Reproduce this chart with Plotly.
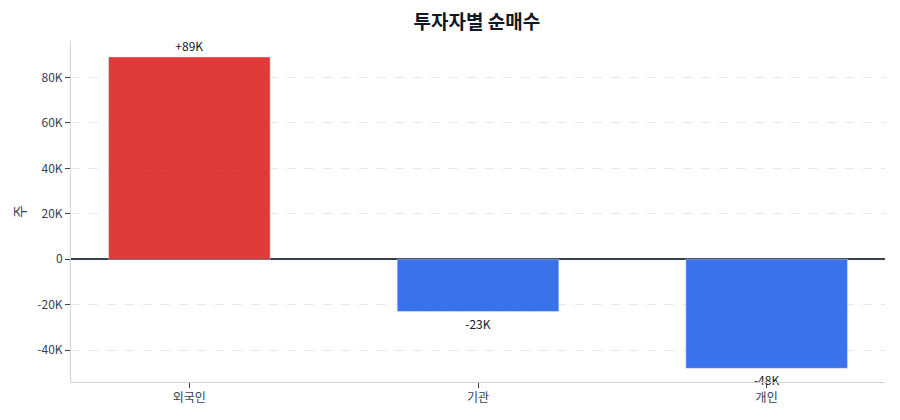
import plotly.graph_objects as go

# ── data ──────────────────────────────────────────────────────────────────────
investors = ["외국인", "기관", "개인"]
net_buy = [89000, -23000, -48000]
labels = ["+89K", "-23K", "-48K"]

POS_COLOUR = "#dc2626"
NEG_COLOUR = "#2563eb"
FONT = "Noto Sans CJK KR"

bar_colours = [POS_COLOUR if v >= 0 else NEG_COLOUR for v in net_buy]

fig = go.Figure(
    go.Bar(
        x=investors,
        y=net_buy,
        marker=dict(color=bar_colours, opacity=0.9),
        width=0.56,
        text=labels,
        textposition="outside",
        textfont=dict(size=12, color="#111827"),
        cliponaxis=False,
    )
)

# page body has an 8px margin, so margins are offset to land the plot area
fig.update_layout(
    width=900,
    height=420,
    title=dict(text="<b>투자자별 순매수</b>", x=0.521, xanchor="center",
               y=0.967, yanchor="middle",
               font=dict(size=19, color="#111827", family=FONT)),
    font=dict(family=FONT, size=12, color="#374151"),
    plot_bgcolor="white",
    paper_bgcolor="white",
    showlegend=False,
    margin=dict(l=63, r=23, t=33, b=46),
)
fig.update_xaxes(
    range=[-0.41, 2.41],
    showline=True, linecolor="#d1d5db", linewidth=1,
    ticks="outside", ticklen=5, tickcolor="#374151",
    showgrid=False,
)
fig.update_yaxes(
    range=[-54000, 96000],
    tickvals=[-40000, -20000, 0, 20000, 40000, 60000, 80000],
    ticktext=["-40K", "-20K", "0", "20K", "40K", "60K", "80K"],
    title=dict(text="주", standoff=8),
    showline=True, linecolor="#d1d5db", linewidth=1,
    ticks="outside", ticklen=5, tickcolor="#374151",
    showgrid=True, gridcolor="#e5e7eb", griddash="dash",
    zeroline=True, zerolinecolor="#374151", zerolinewidth=1.5,
)

fig.write_html("out.html")
